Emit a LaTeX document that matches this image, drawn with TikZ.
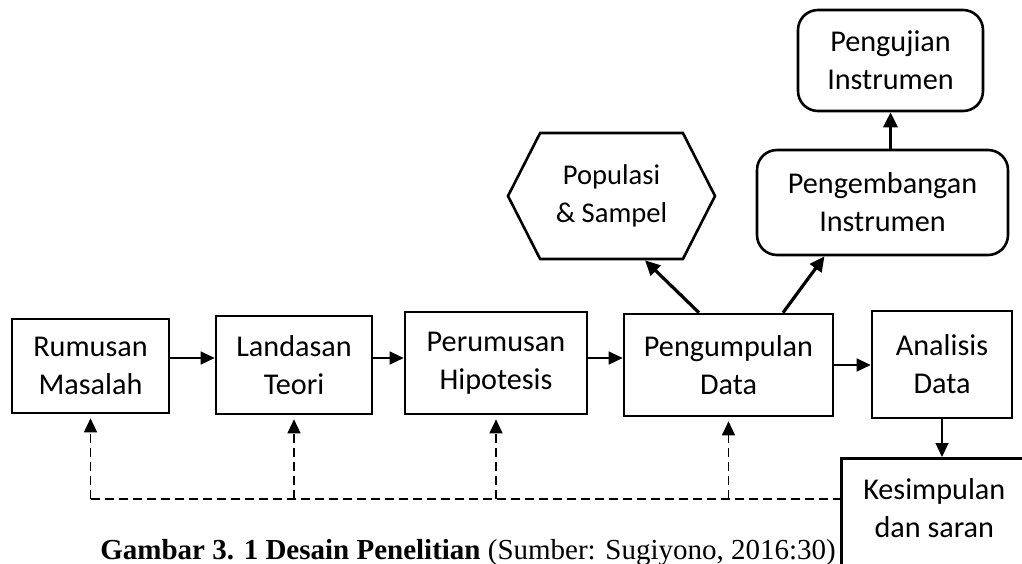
\documentclass[tikz,border=0pt]{standalone}
\usepackage{fontspec}
\setmainfont{Carlito}
\newfontfamily\capfont{Liberation Serif}
\usetikzlibrary{arrows.meta,shapes.symbols}

\begin{document}
\begin{tikzpicture}[x=0.5pt,y=-0.5pt,
  font=\fontsize{15.1}{19}\selectfont,
  box/.style={draw,line width=1.3pt,align=center,inner sep=0pt},
  rbox/.style={box,rounded corners=10pt},
  hexa/.style={box,signal,signal to=west and east,signal pointer angle=126,font=\fontsize{14.3}{19}\selectfont},
  flow/.style={-{Triangle[length=7pt,width=6.5pt]},line width=0.6pt},
  strong/.style={-{Triangle[length=7.5pt,width=7pt]},line width=1.6pt},
  back/.style={-{Triangle[length=7pt,width=6.5pt]},line width=0.6pt,dash pattern=on 4.5pt off 2.5pt,shorten >=2pt}]
  \path[use as bounding box,clip] (0,0) rectangle (1022,563);

  % main row
  \node[box,minimum width=78.5pt,minimum height=47pt] (rm) at (90.5,366) {Rumusan\\Masalah};
  \node[box,minimum width=78pt,minimum height=49pt] (lt) at (294,365) {Landasan\\Teori};
  \node[box,minimum width=91pt,minimum height=51pt] (ph) at (496,363) {Perumusan\\Hipotesis};
  \node[box,minimum width=104.5pt,minimum height=51pt] (pg) at (728.5,365) {Pengumpulan\\Data};
  \node[box,minimum width=70pt,minimum height=53.5pt] (an) at (942,364.5) {Analisis\\Data};
  \node[box,anchor=north west,minimum width=93pt,inner ysep=10pt,text depth=20pt] (ks) at (840,457) {Kesimpulan\\dan saran};

  % upper branch
  \node[hexa,minimum width=103.5pt,minimum height=63pt] (ps) at (611.5,196) {Populasi\\\& Sampel};
  \node[rbox,minimum width=125.5pt,minimum height=52.5pt] (pe) at (882.5,202.5) {Pengembangan\\Instrumen};
  \node[rbox,minimum width=92.5pt,minimum height=50.5pt] (pj) at (890.5,60.5) {Pengujian\\Instrumen};

  \draw[flow] ([yshift=4pt]rm.east) -- ([yshift=4pt]rm.east -| lt.west);
  \draw[flow] ([yshift=3.5pt]lt.east) -- ([yshift=3.5pt]lt.east -| ph.west);
  \draw[flow] ([yshift=2.5pt]ph.east) -- ([yshift=2.5pt]ph.east -| pg.west);
  \draw[flow] (pg.east) -- (pg.east -| an.west);
  \draw[flow] (an.south) -- (an.south |- ks.north);

  \draw[strong] ([xshift=-14.75pt]pg.north) -- ([xshift=16.75pt]ps.south);
  \draw[strong] ([xshift=27.25pt]pg.north) -- ([xshift=-29pt]pe.south);
  \draw[strong] (pe.north -| pj.south) -- (pj.south);

  % feedback
  \coordinate (fb) at (0,499);
  \draw[line width=0.6pt,dash pattern=on 4.5pt off 2.5pt] (rm.south |- fb) -- (ks.west |- fb);
  \foreach \n in {rm,lt,ph,pg}
    \draw[back] (\n.south |- fb) -- (\n.south);

  \node[anchor=base west,inner sep=0pt,font=\capfont\fontsize{14.5}{17}\selectfont] (cap) at (100,559)
    {\textbf{Gambar 3. 1 Desain Penelitian} (Sumber: Sugiyono, 2016:30)};
\end{tikzpicture}
\end{document}
